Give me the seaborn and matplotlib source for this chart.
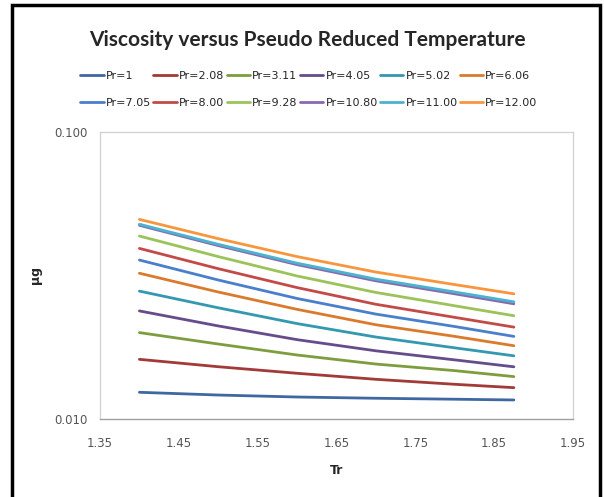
"""
Viscosity versus pseudo reduced temperature, one line per reduced pressure.
"""

import pandas as pd
import matplotlib.pyplot as plt
import matplotlib.ticker as mticker
from matplotlib.patches import Rectangle
import seaborn as sns

# reduced temperature values along the x axis
tr = [1.40, 1.50, 1.60, 1.70, 1.80, 1.875]

# series labels (reduced pressure)
labels = ["Pr=1", "Pr=2.08", "Pr=3.11", "Pr=4.05", "Pr=5.02", "Pr=6.06",
          "Pr=7.05", "Pr=8.00", "Pr=9.28", "Pr=10.80", "Pr=11.00", "Pr=12.00"]

# gas viscosity, one list per series
mu_pr1 = [0.01239, 0.01212, 0.01193, 0.01181, 0.01172, 0.01165]
mu_pr208 = [0.01614, 0.01521, 0.01443, 0.01375, 0.01321, 0.01286]
mu_pr311 = [0.0200, 0.01825, 0.01671, 0.01554, 0.01474, 0.01405]
mu_pr405 = [0.0238, 0.0211, 0.0189, 0.01728, 0.01607, 0.0152]
mu_pr502 = [0.0279, 0.0244, 0.0215, 0.0193, 0.0177, 0.0166]
mu_pr606 = [0.0322, 0.0277, 0.0241, 0.0213, 0.0194, 0.0180]
mu_pr705 = [0.0358, 0.0305, 0.0263, 0.0232, 0.0210, 0.0194]
mu_pr800 = [0.0393, 0.0334, 0.0287, 0.0251, 0.0226, 0.0209]
mu_pr928 = [0.0434, 0.0368, 0.0315, 0.0276, 0.0248, 0.0229]
mu_pr1080 = [0.0473, 0.0402, 0.0345, 0.0303, 0.0273, 0.0252]
mu_pr1100 = [0.0477, 0.0406, 0.0349, 0.0307, 0.0277, 0.0256]
mu_pr1200 = [0.0496, 0.0425, 0.0368, 0.0325, 0.0294, 0.0273]

series = [mu_pr1, mu_pr208, mu_pr311, mu_pr405, mu_pr502, mu_pr606,
          mu_pr705, mu_pr800, mu_pr928, mu_pr1080, mu_pr1100, mu_pr1200]

colors = ["#3F68A2", "#A23A37", "#7E9D3E", "#664C8B", "#3398B0", "#DB7A2C",
          "#4A7FCB", "#C24B48", "#9CC35A", "#8A68AE", "#4BB3D0", "#F8963E"]


def build_df():
    """Long form dataframe for seaborn"""
    rows = []
    for label, values in zip(labels, series):
        for t, v in zip(tr, values):
            rows.append({"Tr": t, "mu": v, "series": label})
    return pd.DataFrame(rows)


def make_plot(df):
    sns.set_style("white")
    plt.rcParams["font.family"] = ["Liberation Sans Narrow", "DejaVu Sans"]

    fig = plt.figure(figsize=(6.04, 4.97), dpi=100)
    ax = fig.add_axes([100 / 604, 78 / 497, 473 / 604, 287 / 497])

    sns.lineplot(data=df, x="Tr", y="mu", hue="series", hue_order=labels,
                 palette=colors, linewidth=2.0, ax=ax, legend=False)

    ax.set_yscale("log")
    ax.set_ylim(0.01, 0.1)
    ax.set_xlim(1.35, 1.95)
    ax.set_xticks([1.35, 1.45, 1.55, 1.65, 1.75, 1.85, 1.95])
    ax.xaxis.set_major_formatter(mticker.FormatStrFormatter("%.2f"))
    ax.yaxis.set_major_locator(mticker.FixedLocator([0.01, 0.1]))
    ax.yaxis.set_minor_locator(mticker.NullLocator())
    ax.yaxis.set_major_formatter(mticker.FormatStrFormatter("%.3f"))
    ax.tick_params(labelsize=8.5, colors="#555555", length=3, width=0.8,
                   direction="out")
    ax.tick_params(axis="x", pad=10)
    ax.tick_params(axis="y", pad=6)

    for side in ["top", "right", "left"]:
        ax.spines[side].set_color("#D0D0D0")
        ax.spines[side].set_linewidth(0.9)
    ax.spines["bottom"].set_color("#A0A0A0")
    ax.spines["bottom"].set_linewidth(1.0)

    ax.set_xlabel("Tr", fontsize=9, fontweight="bold", labelpad=10)
    ax.set_ylabel("\u03bcg", fontsize=9, fontweight="bold", labelpad=9)

    fig.text(307 / 604, 1 - 40 / 497,
             "Viscosity versus Pseudo Reduced Temperature",
             ha="center", va="center", fontsize=15, fontweight="bold",
             family=["Lato", "DejaVu Sans"])

    # legend fills column by column, so reorder to read across rows
    handles = [plt.Line2D([], [], color=c, lw=2.0) for c in colors]
    order = [i + 6 * r for i in range(6) for r in range(2)]
    fig.legend([handles[i] for i in order], [labels[i] for i in order],
               loc="center", ncol=6, frameon=False,
               bbox_to_anchor=(309 / 604, 1 - 89.5 / 497), fontsize=8,
               handlelength=2.1, handletextpad=0.2, columnspacing=0.2,
               labelspacing=1.5)

    # black frame around the chart area
    fig.patches.append(Rectangle((12 / 604, -0.05), 588 / 604,
                                 1.05 - 5 / 497,
                                 transform=fig.transFigure, fill=False,
                                 edgecolor="black", linewidth=2.5))

    fig.savefig("out.png", dpi=100)


if __name__ == "__main__":
    data = build_df()
    make_plot(data)
